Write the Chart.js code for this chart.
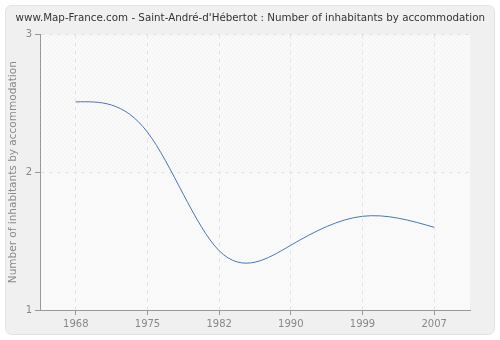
<!DOCTYPE html>
<html>
<head>
<meta charset="utf-8">
<script src="https://cdn.jsdelivr.net/npm/chart.js@4.4.0/dist/chart.umd.min.js"></script>
<style>
  html, body { margin: 0; padding: 0; background: #fff; }
  #wrap { width: 500px; height: 340px; }
</style>
</head>
<body>
<div id="wrap"><canvas id="inhabChart" width="500" height="340"></canvas></div>
<script>
// data
const years = ['1968', '1975', '1982', '1990', '1999', '2007'];
const inhabitants = [2.51, 2.29, 1.43, 1.47, 1.68, 1.6];
const yTicks = [1, 2, 3];

// card background + hatched plot area
const backdrop = {
    id: 'backdrop',
    beforeDraw(chart) {
        const ctx = chart.ctx;
        const a = chart.chartArea;
        ctx.save();
        ctx.beginPath();
        ctx.roundRect(5.5, 5.5, 489, 329, 6);
        ctx.fillStyle = '#f0f0f0';
        ctx.fill();
        ctx.strokeStyle = '#e2e2e2';
        ctx.stroke();

        ctx.fillStyle = '#fbfbfb';
        ctx.fillRect(a.left, a.top, a.right - a.left, a.bottom - a.top);

        const mid = chart.scales.y.getPixelForValue(2);
        const hatch = (y0, y1, color) => {
            ctx.save();
            ctx.beginPath();
            ctx.rect(a.left, y0, a.right - a.left, y1 - y0);
            ctx.clip();
            ctx.strokeStyle = color;
            ctx.lineWidth = 1;
            ctx.beginPath();
            for (let x = a.left - (a.bottom - a.top); x < a.right; x += 4) {
                ctx.moveTo(x, a.bottom);
                ctx.lineTo(x + (a.bottom - a.top), a.top);
            }
            ctx.stroke();
            ctx.restore();
        };
        hatch(a.top, mid, '#efefef');
        hatch(mid, a.bottom, '#f4f4f4');
        ctx.restore();
    }
};

// the reference curve is a natural cubic spline; replace the bezier control
// points chart.js computed with the natural-spline ones (same scale pixels)
const naturalSpline = {
    id: 'naturalSpline',
    beforeDatasetDraw(chart, args) {
        const meta = args.meta;
        if (!meta.dataset) return;
        meta.dataset.updateControlPoints(chart.chartArea, meta.indexAxis);
        const pts = meta.data;
        const n = pts.length;
        if (n < 3) return;
        const h = [], M = new Array(n).fill(0);
        for (let i = 0; i < n - 1; i++) h.push(pts[i + 1].x - pts[i].x);
        // tridiagonal solve for second derivatives
        const c = new Array(n).fill(0), d = new Array(n).fill(0);
        for (let i = 1; i < n - 1; i++) {
            const a = h[i - 1], b = 2 * (h[i - 1] + h[i]), cc = h[i];
            const r = 6 * ((pts[i + 1].y - pts[i].y) / h[i] - (pts[i].y - pts[i - 1].y) / h[i - 1]);
            const den = b - a * c[i - 1];
            c[i] = cc / den;
            d[i] = (r - a * d[i - 1]) / den;
        }
        for (let i = n - 2; i >= 1; i--) M[i] = d[i] - c[i] * M[i + 1];
        for (let i = 0; i < n - 1; i++) {
            const p0 = pts[i], p1 = pts[i + 1], hi = h[i];
            const dy = (p1.y - p0.y) / hi;
            const s0 = dy - hi * (2 * M[i] + M[i + 1]) / 6;
            const s1 = dy + hi * (M[i] + 2 * M[i + 1]) / 6;
            p0.cp2x = p0.x + hi / 3;
            p0.cp2y = p0.y + s0 * hi / 3;
            p1.cp1x = p1.x - hi / 3;
            p1.cp1y = p1.y - s1 * hi / 3;
        }
    }
};

const ctx = document.getElementById('inhabChart').getContext('2d');
const inhabChart = new Chart(ctx, {
    type: 'line',
    data: {
        labels: years,
        datasets: [{
            data: inhabitants,
            borderColor: '#4a78b0',
            borderWidth: 1,
            pointRadius: 0,
            tension: 0.4,
            fill: false
        }]
    },
    options: {
        responsive: false,
        animation: false,
        layout: { padding: { top: 5, right: 15, left: 0, bottom: 0 } },
        plugins: {
            legend: { display: false },
            tooltip: { enabled: false },
            title: {
                display: true,
                text: "www.Map-France.com - Saint-André-d'Hébertot : Number of inhabitants by accommodation",
                color: '#333',
                font: { family: 'DejaVu Sans', size: 10.3, weight: 'normal' },
                padding: { top: 7, bottom: 10 },
                align: 'end'
            }
        },
        scales: {
            x: {
                offset: true,
                grid: {
                    offset: false,
                    color: '#e3e3e3',
                    tickColor: '#999',
                    tickLength: 5
                },
                border: { color: '#999', dash: [4, 4] },
                ticks: {
                    color: '#888',
                    font: { family: 'DejaVu Sans', size: 10 },
                    padding: 3,
                    maxRotation: 0
                },
                afterFit(scale) { scale.height = 30; }
            },
            y: {
                min: 1,
                max: 3,
                afterBuildTicks(scale) {
                    scale.ticks = yTicks.map(v => ({ value: v }));
                },
                grid: {
                    color: c => c.tick && c.tick.value === 1 ? 'rgba(0,0,0,0)' : '#e3e3e3',
                    tickColor: '#999',
                    tickLength: 5
                },
                border: { color: '#999', dash: [4, 4] },
                ticks: {
                    color: '#888',
                    font: { family: 'DejaVu Sans', size: 10 },
                    padding: 3
                },
                title: {
                    display: true,
                    text: 'Number of inhabitants by accommodation',
                    color: '#888',
                    font: { family: 'DejaVu Sans', size: 10.5 },
                    padding: { top: 7, bottom: 0 }
                },
                afterFit(scale) { scale.width = 40; }
            },
            // empty right-hand spacer so the plot ends at 470 while the title reaches 485
            spacer: {
                type: 'linear',
                position: 'right',
                ticks: { display: false },
                grid: { display: false },
                border: { display: false },
                afterFit(scale) { scale.width = 15; }
            }
        }
    },
    plugins: [backdrop, naturalSpline]
});
</script>
</body>
</html>
